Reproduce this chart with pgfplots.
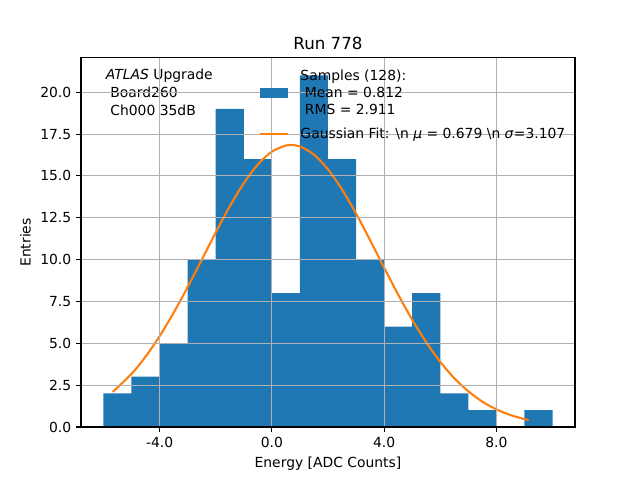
\documentclass[border=0pt]{standalone}
\usepackage{pgfplots}
\pgfplotsset{compat=1.18}
\usepackage{fontspec}
\setmainfont{DejaVu Sans}
\definecolor{tabblue}{HTML}{1F77B4}
\definecolor{taborange}{HTML}{FF7F0E}
\begin{document}
\fontsize{10}{12}\selectfont
\begin{tikzpicture}
\useasboundingbox (0,0) rectangle (460.8pt,345.6pt);
\begin{axis}[
  at={(58.3pt,38.2pt)}, anchor=south west,
  scale only axis, width=355.7pt, height=265.7pt,
  xmin=-6.8, xmax=10.8, ymin=0, ymax=22.05,
  axis on top,
  grid=major,
  major grid style={color=black!31, line width=0.8pt},
  axis line style={line width=0.8pt},
  tick style={line width=0.8pt, black},
  tick align=outside, major tick length=3.5pt,
  xtick={-4,0,4,8}, xticklabels={-4.0,0.0,4.0,8.0},
  ytick={0,2.5,5,7.5,10,12.5,15,17.5,20},
  yticklabel style={/pgf/number format/.cd, fixed, fixed zerofill, precision=1},
  /pgf/number format/assume math mode=true,
  ticklabel style={font=\fontsize{10}{12}\selectfont},
  xtick pos=bottom, ytick pos=left,
  title={\fontsize{12}{14}\selectfont Run 778},
  title style={yshift=-3.6pt},
  xlabel={Energy [ADC Counts]}, ylabel={Entries},
  legend style={at={(0.351,0.984)}, anchor=north west, draw=none, fill=none,
    font=\fontsize{10}{12.3}\selectfont, row sep=4pt},
  legend cell align=left,
  legend style={nodes={align=left}},
]
\addplot[fill=tabblue, draw=none, const plot mark left,
  area legend,
  legend image code/.code={\fill[tabblue] (0pt,-3.5pt) rectangle (20pt,3.5pt); \path (26.5pt,0pt);}]
  coordinates {(-6,2) (-5,3) (-4,5) (-3,10) (-2,19) (-1,16) (0,8) (1,21) (2,16)
  (3,10) (4,6) (5,8) (6,2) (7,1) (8,0) (9,1) (10,1)} \closedcycle;
\addlegendentry{Samples (128):\\ \ Mean = 0.812\\ \ RMS = 2.911}
\addplot[taborange, line width=1.5pt, smooth,
  legend image code/.code={\draw[taborange, line width=1.5pt] (0pt,0pt) -- (20pt,0pt); \path (26.5pt,0pt);}]
  coordinates {(-5.67,2.09) (-5,3.17) (-4.5,4.20) (-4,5.42) (-3.5,6.82) (-3,8.36)
  (-2.5,9.98) (-2,11.62) (-1.5,13.18) (-1,14.56) (-0.5,15.68) (0,16.45) (0.5,16.82)
  (0.679,16.85) (1,16.76) (1.5,16.27) (2,15.39) (2.5,14.19) (3,12.75) (3.5,11.16)
  (4,9.52) (4.5,7.91) (5,6.41) (5.5,5.06) (6,3.89) (6.5,2.91) (7,2.13) (7.5,1.51)
  (8,1.05) (8.5,0.71) (9,0.47) (9.15,0.41)};
\addlegendentry{Gaussian Fit: \textbackslash n \textit{μ} = 0.679 \textbackslash n \textit{σ}=3.107}
\node[anchor=north west, align=left, inner sep=0pt, font=\fontsize{10}{13}\selectfont]
  at (rel axis cs:0.05,0.97) {\textit{ATLAS} Upgrade\\ \ Board260\\ \ Ch000 35dB};
\end{axis}
\end{tikzpicture}
\end{document}
